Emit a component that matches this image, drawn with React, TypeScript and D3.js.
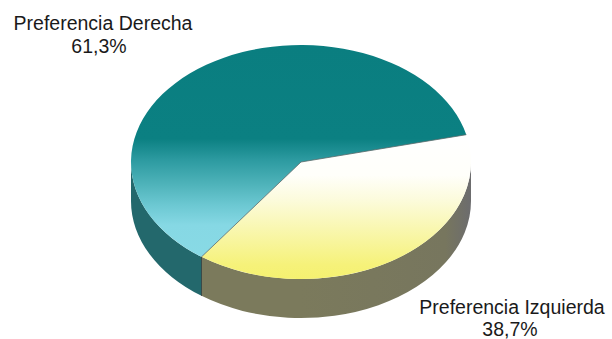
import React from "react";
import * as d3 from "d3";

const categories = ["Preferencia Izquierda", "Preferencia Derecha"];
const values = [38.7, 61.3];
const valueLabels = ["38,7%", "61,3%"];

const W = 612;
const H = 339;
const cx = 301;
const cy = 162;
const rx = 170;
const ry = 117;
const depth = 39;
const startDeg = 76.5;

function pt(a: number, dy = 0): [number, number] {
  return [cx + rx * Math.sin(a), cy - ry * Math.cos(a) + dy];
}

function arcPath(a0: number, a1: number, dy = 0, move = false) {
  const [x1, y1] = pt(a1, dy);
  const large = Math.abs(a1 - a0) > Math.PI ? 1 : 0;
  const sweep = a1 > a0 ? 1 : 0;
  const [x0, y0] = pt(a0, dy);
  return (move ? `M${x0},${y0}` : "") + `A${rx},${ry} 0 ${large} ${sweep} ${x1},${y1}`;
}

function topPath(a0: number, a1: number) {
  const [x0, y0] = pt(a0);
  return `M${cx},${cy}L${x0},${y0}` + arcPath(a0, a1) + "Z";
}

function sidePath(a0: number, a1: number) {
  const lo = Math.max(a0, Math.PI / 2);
  const hi = Math.min(a1, (3 * Math.PI) / 2);
  if (hi <= lo) return null;
  const [xb, yb] = pt(hi, depth);
  return arcPath(lo, hi, 0, true) + `L${xb},${yb}` + arcPath(hi, lo, depth) + "Z";
}

export default function App() {
  const pie = d3
    .pie<number>()
    .sort(null)
    .value((d) => d)
    .startAngle((startDeg * Math.PI) / 180)
    .endAngle((startDeg * Math.PI) / 180 + 2 * Math.PI);
  const arcs = pie(values);
  const topFills = ["url(#gIzq)", "url(#gDer)"];
  const sideFills = ["url(#gIzqSide)", "#23686c"];

  return (
    <svg
      width={W}
      height={H}
      style={{ position: "absolute", left: 0, top: 0, background: "#fff" }}
      fontFamily="Liberation Sans, Arial, sans-serif"
    >
      <defs>
        <linearGradient id="gDer" gradientUnits="userSpaceOnUse" x1="0" y1="45" x2="0" y2="279">
          <stop offset="0" stopColor="#0a7e80" />
          <stop offset="0.4" stopColor="#0b8082" />
          <stop offset="0.49" stopColor="#2c9aa0" />
          <stop offset="0.6" stopColor="#50b4bb" />
          <stop offset="0.684" stopColor="#6cc8d2" />
          <stop offset="0.77" stopColor="#86d8e4" />
          <stop offset="1" stopColor="#8adbe6" />
        </linearGradient>
        <linearGradient id="gIzq" gradientUnits="userSpaceOnUse" x1="0" y1="135" x2="0" y2="279">
          <stop offset="0" stopColor="#ffffff" />
          <stop offset="0.28" stopColor="#fffffa" />
          <stop offset="0.45" stopColor="#fcfbdc" />
          <stop offset="0.65" stopColor="#f9f7b0" />
          <stop offset="0.9" stopColor="#f6f27a" />
          <stop offset="1" stopColor="#f5f170" />
        </linearGradient>
        <linearGradient id="gIzqSide" gradientUnits="userSpaceOnUse" x1={cx} y1="0" x2={cx + rx} y2="0">
          <stop offset="0" stopColor="#7b7a5c" />
          <stop offset="0.85" stopColor="#77765e" />
          <stop offset="1" stopColor="#6c6c6e" />
        </linearGradient>
      </defs>
      {arcs.map((a, i) => {
        const p = sidePath(a.startAngle, a.endAngle);
        return p ? <path key={"s" + i} d={p} fill={sideFills[i]} /> : null;
      })}
      {arcs.map((a, i) => (
        <path key={"t" + i} d={topPath(a.startAngle, a.endAngle)} fill={topFills[i]} />
      ))}
      {arcs.map((a, i) => {
        const [x, y] = pt(a.startAngle);
        return <line key={"e" + i} x1={cx} y1={cy} x2={x} y2={y} stroke="#5a6a6a" strokeWidth={0.8} />;
      })}
      {(() => {
        const a = arcs[0];
        const [x, y] = pt(a.endAngle);
        return <line x1={x} y1={y} x2={x} y2={y + depth} stroke="#3a4a48" strokeWidth={1} />;
      })()}
      <g fill="#1a1a1a" fontSize={19.5} textAnchor="middle">
        <text x={103} y={30}>{categories[1]}</text>
        <text x={99} y={53}>{valueLabels[1]}</text>
        <text x={512} y={314}>{categories[0]}</text>
        <text x={510} y={336}>{valueLabels[0]}</text>
      </g>
    </svg>
  );
}
